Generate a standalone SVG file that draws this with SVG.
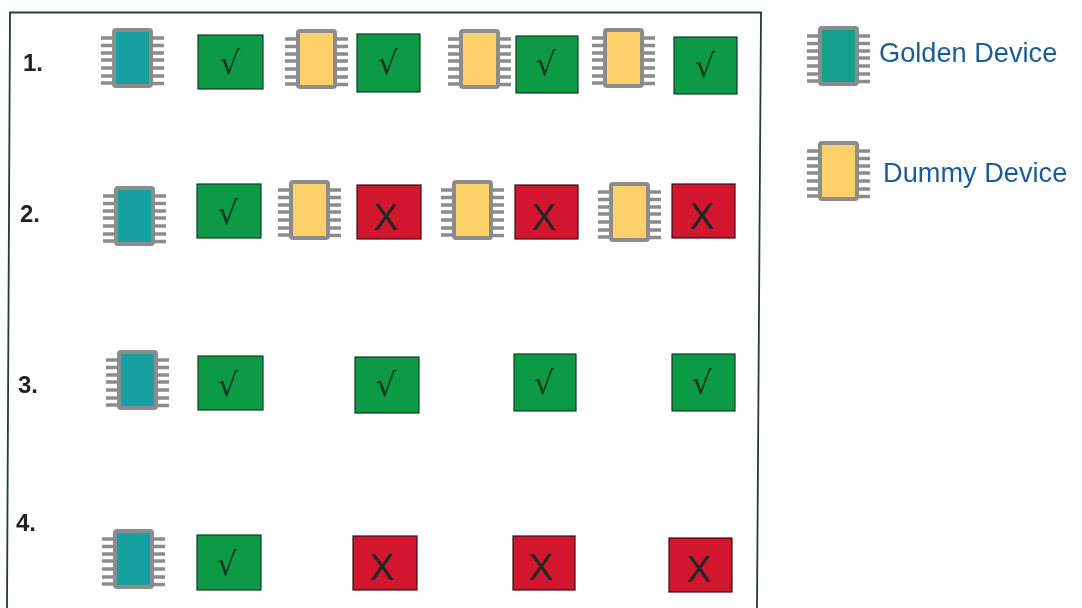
<svg xmlns="http://www.w3.org/2000/svg" width="1082" height="608" viewBox="0 0 1082 608">
<style>
.g{fill:#17a1a0}.gl{fill:#12a08f}.d{fill:#fdd06a}
.body{stroke:#8c8c8c;stroke-width:4;stroke-linejoin:round}
.pin{stroke:#8c8c8c;stroke-width:3.400;fill:none}
.ok{fill:#0e9a44;stroke:#123d24;stroke-width:1.200}
.no{fill:#d2122e;stroke:#3a1015;stroke-width:1.200}
.mk{font-family:"Liberation Sans",Arial,sans-serif;font-size:37px;fill:#1c2a22;text-anchor:middle}
.mk2{font-family:"DejaVu Sans",sans-serif;font-size:32px;fill:#0b3a20;text-anchor:middle}
.n{font-family:"Liberation Sans",Arial,sans-serif;font-size:24px;font-weight:bold;fill:#222}
.l{font-family:"Liberation Sans",Arial,sans-serif;font-size:27.200px;fill:#1c5c96}
</style>
<defs>
<filter id="soft" x="-2%" y="-2%" width="104%" height="104%"><feGaussianBlur stdDeviation="0.45"/></filter>
<path id="pins" class="pin" d="M0 9H12M0 16.500H12M0 24H12M0 31H12M0 39H12M0 47H12M0 54H12M52 9H63M52 16.500H63M52 24H63M52 31H63M52 39H63M52 47H63M52 54.500H63"/>
<rect id="golden" class="body" x="13" y="1" width="37" height="56" rx="2"/>
<rect id="dummy" class="body" x="13" y="1" width="37" height="56" rx="2"/>
</defs>
<rect width="1082" height="608" fill="#fff"/>
<g filter="url(#soft)">
<g id="connectors"><path id="frame" d="M7 608L10 12.500H761L757 608" fill="none" stroke="#263a35" stroke-width="1.800"/></g>

<g id="label-1"><text class="n" x="23" y="71">1.</text></g>
<g id="label-2"><text class="n" x="20" y="222">2.</text></g>
<g id="label-3"><text class="n" x="18" y="393">3.</text></g>
<g id="label-4"><text class="n" x="16" y="531">4.</text></g>

<g id="r1-golden" transform="translate(101 29)"><use href="#pins"/><use href="#golden" class="g"/></g>
<g id="r1-pass1"><rect class="ok" x="198" y="35" width="65" height="54"/><text class="mk2" x="230" y="74">√</text></g>
<g id="r1-dummy1" transform="translate(285 30)"><use href="#pins"/><use href="#dummy" class="d"/></g>
<g id="r1-pass2"><rect class="ok" x="357" y="34" width="63" height="58"/><text class="mk2" x="388" y="74">√</text></g>
<g id="r1-dummy2" transform="translate(448 30)"><use href="#pins"/><use href="#dummy" class="d"/></g>
<g id="r1-pass3"><rect class="ok" x="516" y="36" width="62" height="57"/><text class="mk2" x="546" y="75">√</text></g>
<g id="r1-dummy3" transform="translate(592 29)"><use href="#pins"/><use href="#dummy" class="d"/></g>
<g id="r1-pass4"><rect class="ok" x="674" y="37" width="63" height="57"/><text class="mk2" x="705" y="77">√</text></g>

<g id="r2-golden" transform="translate(103 187)"><use href="#pins"/><use href="#golden" class="g"/></g>
<g id="r2-pass1"><rect class="ok" x="197" y="184" width="64" height="54"/><text class="mk2" x="228" y="224">√</text></g>
<g id="r2-dummy1" transform="translate(278 181)"><use href="#pins"/><use href="#dummy" class="d"/></g>
<g id="r2-fail1"><rect class="no" x="357" y="185" width="64" height="54"/><text class="mk" x="386" y="230">X</text></g>
<g id="r2-dummy2" transform="translate(441 181)"><use href="#pins"/><use href="#dummy" class="d"/></g>
<g id="r2-fail2"><rect class="no" x="515" y="185" width="63" height="54"/><text class="mk" x="544" y="230">X</text></g>
<g id="r2-dummy3" transform="translate(598 183)"><use href="#pins"/><use href="#dummy" class="d"/></g>
<g id="r2-fail3"><rect class="no" x="672" y="184" width="63" height="54"/><text class="mk" x="702" y="229">X</text></g>

<g id="r3-golden" transform="translate(106 351)"><use href="#pins"/><use href="#golden" class="g"/></g>
<g id="r3-pass1"><rect class="ok" x="198" y="356" width="65" height="54"/><text class="mk2" x="228" y="396">√</text></g>
<g id="r3-pass2"><rect class="ok" x="355" y="357" width="64" height="56"/><text class="mk2" x="386" y="396">√</text></g>
<g id="r3-pass3"><rect class="ok" x="514" y="354" width="62" height="57"/><text class="mk2" x="544" y="394">√</text></g>
<g id="r3-pass4"><rect class="ok" x="672" y="354" width="63" height="57"/><text class="mk2" x="702" y="394">√</text></g>

<g id="r4-golden" transform="translate(102 530)"><use href="#pins"/><use href="#golden" class="g"/></g>
<g id="r4-pass1"><rect class="ok" x="197" y="535" width="64" height="55"/><text class="mk2" x="227" y="575">√</text></g>
<g id="r4-fail1"><rect class="no" x="353" y="536" width="64" height="54"/><text class="mk" x="382" y="580">X</text></g>
<g id="r4-fail2"><rect class="no" x="513" y="536" width="62" height="54"/><text class="mk" x="541" y="580">X</text></g>
<g id="r4-fail3"><rect class="no" x="669" y="538" width="63" height="54"/><text class="mk" x="699" y="582">X</text></g>

<g id="legend-golden" transform="translate(807 27)"><use href="#pins"/><use href="#golden" class="gl"/></g>
<g id="legend-golden-label"><text class="l" x="879" y="62">Golden Device</text></g>
<g id="legend-dummy" transform="translate(807 142)"><use href="#pins"/><use href="#dummy" class="d"/></g>
<g id="legend-dummy-label"><text class="l" x="883" y="182">Dummy Device</text></g>
</g>
</svg>
